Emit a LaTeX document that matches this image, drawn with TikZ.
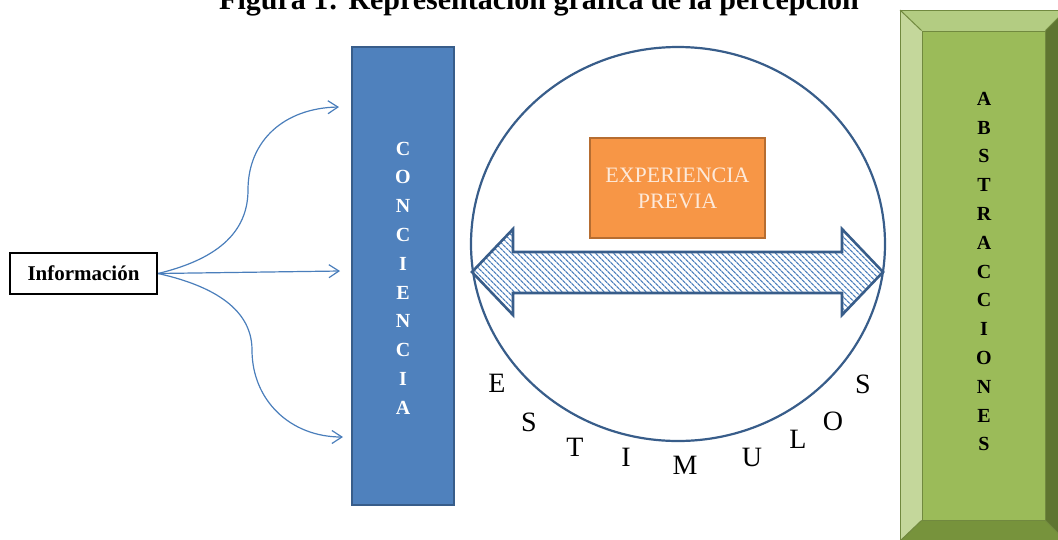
\documentclass[tikz,border=0pt]{standalone}
\usepackage{fontspec}
\setmainfont{Liberation Serif}
\usetikzlibrary{arrows.meta,patterns.meta}
\definecolor{cblue}{HTML}{4F81BD}
\definecolor{cbluedark}{HTML}{385D8A}
\definecolor{lineblue}{HTML}{4A7EBB}
\definecolor{corange}{HTML}{F79646}
\definecolor{corangedark}{HTML}{B66D31}
\definecolor{corangetext}{HTML}{FDE9D9}
\definecolor{gface}{HTML}{9BBB59}
\definecolor{gtop}{HTML}{B3CC82}
\definecolor{gleft}{HTML}{C4D79B}
\definecolor{gright}{HTML}{5F7530}
\definecolor{gbottom}{HTML}{77933C}
\definecolor{gline}{HTML}{71893F}
\tikzset{
  conn/.style={draw=lineblue, line width=1.2pt, -{Straight Barb[length=10pt,width=13pt]}},
  bevel/.style={draw=gline, line width=1pt},
  vletters/.style={font=\bfseries\fontsize{20}{28.8}\selectfont, align=center, inner sep=0pt},
  stim/.style={font=\fontsize{28}{30}\selectfont, inner sep=0pt, anchor=center},
}
\begin{document}
\begin{tikzpicture}[x=1pt,y=-1pt]
\useasboundingbox (0,0) rectangle (1058,539);
% title (cut off at top, as in the reference)
\node[font=\bfseries\fontsize{30}{32}\selectfont, anchor=base, inner sep=0pt] (title) at (539,9) {Figura 1: Representación gráfica de la percepción};
% Informacion box
\node[draw=black, line width=2.2pt, minimum width=147pt, minimum height=41pt, inner sep=0pt,
      font=\bfseries\fontsize{21}{24}\selectfont] (info) at (83.5,273.5) {Información};
% conciencia bar
\node[fill=cblue, draw=cbluedark, line width=2pt, minimum width=102pt, minimum height=458pt, inner sep=0pt] (conc) at (403,276) {};
\node[vletters, text=white] (conctext) at (403,278) {C\\O\\N\\C\\I\\E\\N\\C\\I\\A};
% connectors
\coordinate (t1) at (339,107);
\coordinate (t2) at (340,271);
\coordinate (t3) at (343,437);
\draw[conn] (info.east) .. controls (205,262) and (248,240) .. (248,190)
  .. controls (248,140) and (285,108) .. (t1);
\draw[conn] (info.east) -- (t2);
\draw[conn] (info.east) .. controls (205,284) and (252,305) .. (252,350)
  .. controls (252,400) and (290,437) .. (t3);
% circle
\draw[cbluedark, line width=2.2pt] (678,244) ellipse [x radius=207pt, y radius=197pt];
% double arrow with hatch
\draw[cbluedark, line width=2.6pt, line join=miter,
      pattern={Lines[angle=-45,distance=4pt,line width=1.3pt]}, pattern color=cblue]
  (472,272) -- (513,229) -- (513,252) -- (842,252) -- (842,229) -- (883,272)
  -- (842,315) -- (842,293) -- (513,293) -- (513,315) -- cycle;
% experiencia previa
\node[fill=corange, draw=corangedark, line width=2pt, minimum width=175pt, minimum height=100pt, inner sep=0pt,
      text=corangetext, align=center, font=\fontsize{22}{26}\selectfont] (exp) at (677.5,188) {EXPERIENCIA\\PREVIA};
% ESTIMULOS letters
\node[stim] (s1) at (497,383) {E};
\node[stim] (s2) at (529,422) {S};
\node[stim] (s3) at (575,447) {T};
\node[stim] (s4) at (626,457) {I};
\node[stim] (s5) at (685,465) {M};
\node[stim] (s6) at (752,457) {U};
\node[stim] (s7) at (798,439) {L};
\node[stim] (s8) at (833,421) {O};
\node[stim] (s9) at (863,384) {S};
% abstracciones beveled box
\fill[gtop] (900,10) -- (1066,10) -- (1045,31) -- (922,31) -- cycle;
\fill[gleft] (900,10) -- (922,31) -- (922,520) -- (900,541) -- cycle;
\fill[gright] (1066,10) -- (1045,31) -- (1045,520) -- (1066,541) -- cycle;
\fill[gbottom] (900,541) -- (922,520) -- (1045,520) -- (1066,541) -- cycle;
\node[fill=gface, bevel, minimum width=123pt, minimum height=489pt, inner sep=0pt] (abs) at (983.5,275.5) {};
\draw[bevel] (900,10) rectangle (1066,541);
\draw[bevel] (900,10) -- (abs.north west) (1066,10) -- (abs.north east)
  (900,541) -- (abs.south west) (1066,541) -- (abs.south east);
\node[vletters, text=black] (abstext) at (984,271.5) {A\\B\\S\\T\\R\\A\\C\\C\\I\\O\\N\\E\\S};
\end{tikzpicture}
\end{document}
